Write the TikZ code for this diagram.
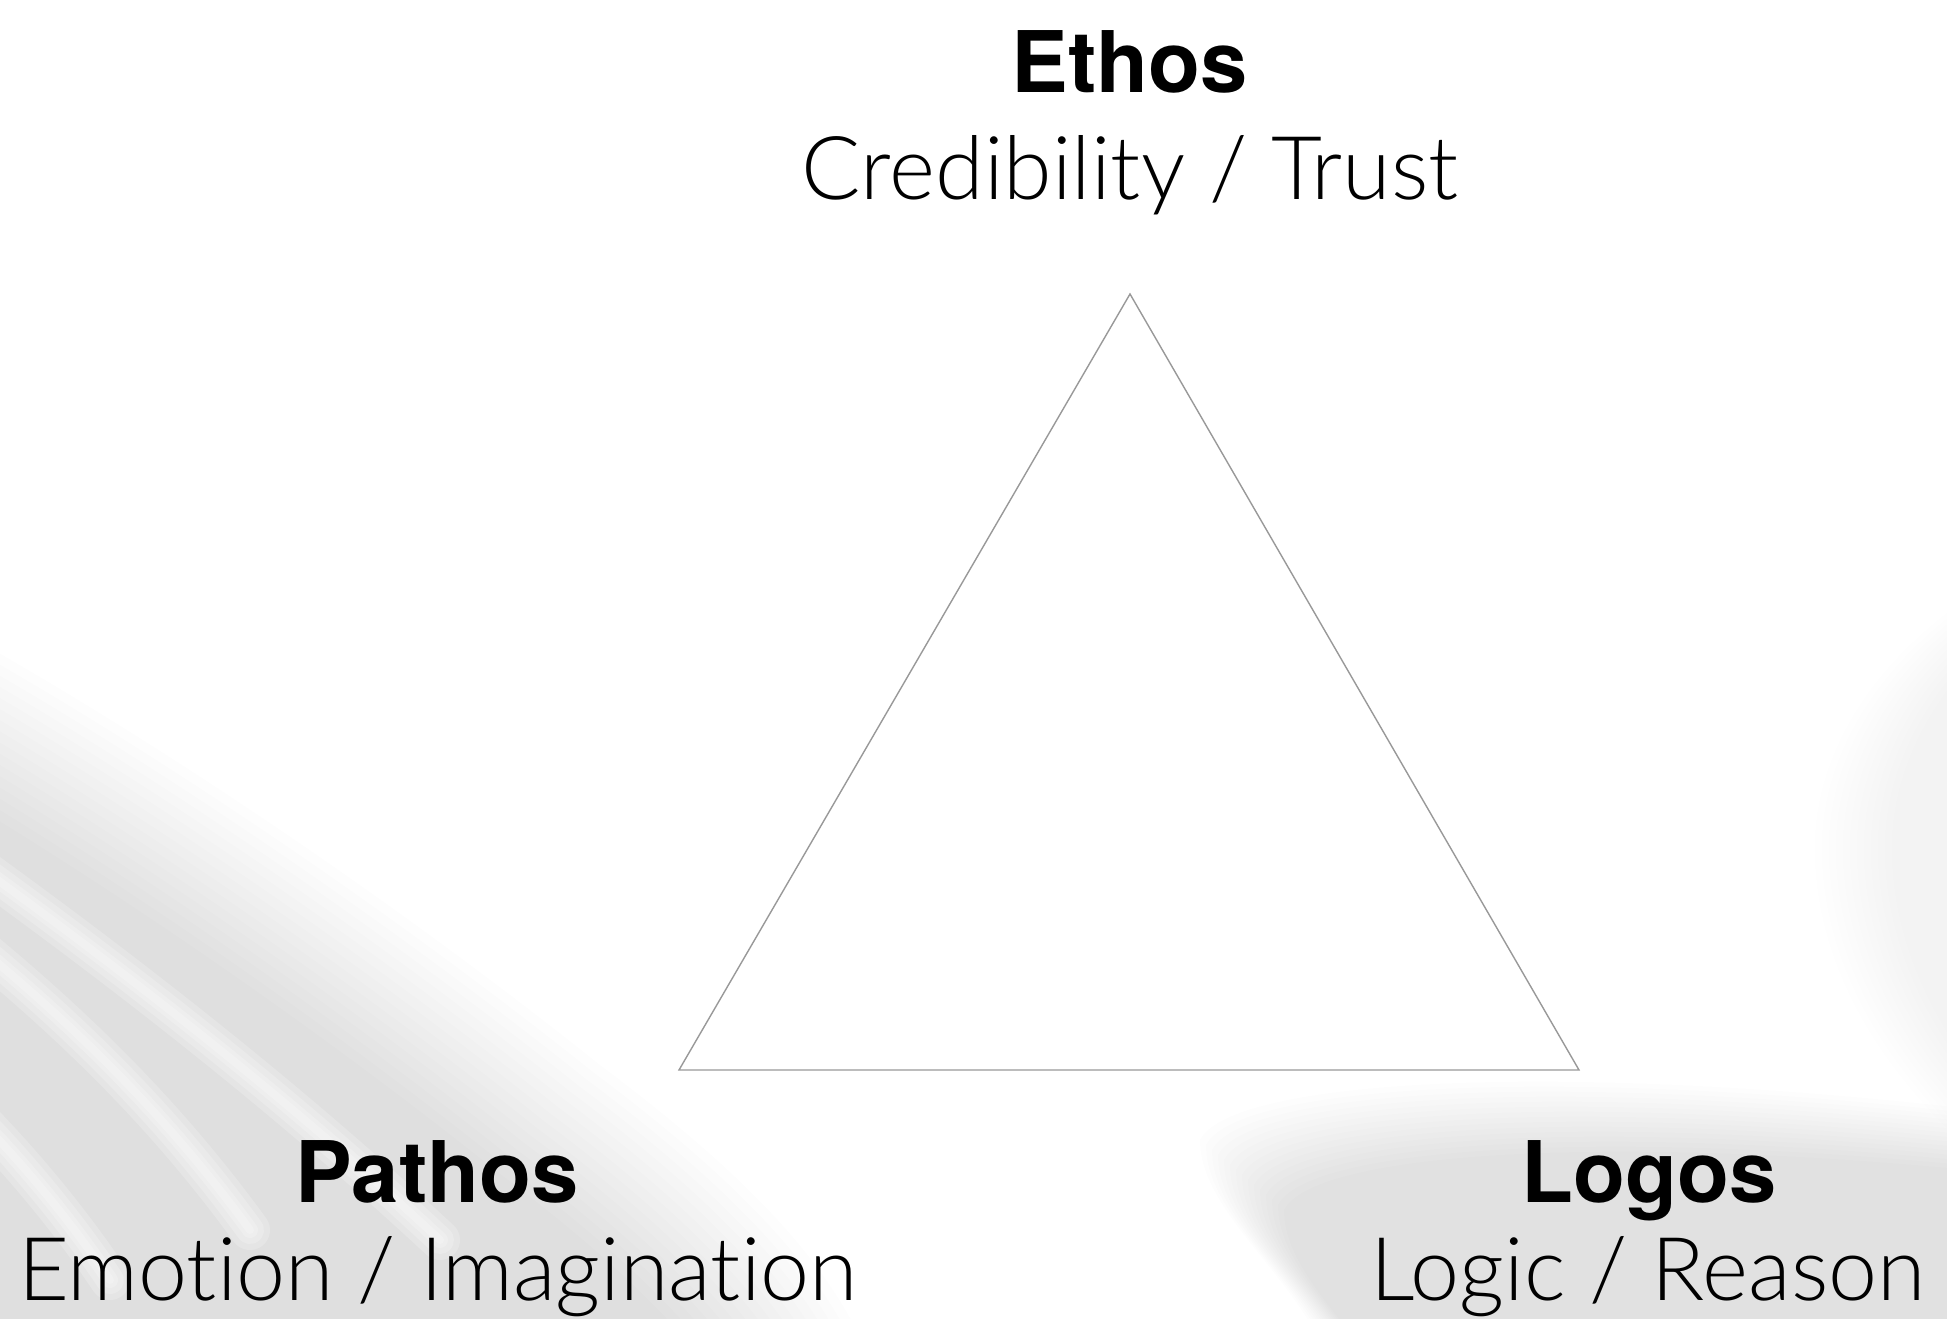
\documentclass[tikz,border=0pt]{standalone}
\usepackage{fontspec}
\setmainfont{TeX Gyre Heros}
\newfontfamily\lightfont{Lato Light}[RawFeature={-liga;-dlig}]
\tikzset{
  titletext/.style={font=\fontsize{85}{100}\selectfont\bfseries, inner sep=0pt, anchor=base, text=black},
  subtext/.style={font=\lightfont\fontsize{88}{100}\selectfont, inner sep=0pt, anchor=base, text=black},
  triline/.style={draw=black!40, line width=1.4pt, line join=miter},
  streak/.style={white, line cap=round, opacity=0.2},
}
\begin{document}
\begin{tikzpicture}[x=1pt,y=-1pt]
\useasboundingbox (0,0) rectangle (1947,1319);
\fill[white] (0,0) rectangle (1947,1319);
\begin{scope}
\clip (0,0) rectangle (1947,1319);
% lower-left soft grey sweep
\foreach \i in {0,...,15} {
  \fill[black, opacity=0.0085, shift={({-7*\i},{7*\i})}]
    (-60,620) .. controls (150,735) and (400,905) .. (600,1065)
    .. controls (740,1170) and (830,1260) .. (870,1360) -- (-60,1360) -- cycle;
}
% white streaks in the sweep
\foreach \w in {40,28,16,8} {
  \draw[streak, line width=\w pt] (-30,860) .. controls (150,990) and (300,1110) .. (440,1240);
  \draw[streak, line width=\w pt] (-30,940) .. controls (80,1030) and (170,1120) .. (250,1230);
  \draw[streak, line width=\w pt] (-30,1110) .. controls (20,1160) and (70,1220) .. (110,1280);
}
% lower-right soft grey
\foreach \i in {0,...,14} {
  \fill[black, opacity=0.008, shift={({6*\i},{5*\i})}]
    (1200,1140) .. controls (1230,1080) and (1550,1060) .. (1980,1110)
    -- (1980,1360) -- (1330,1360) .. controls (1290,1270) and (1200,1210) .. cycle;
}
% right edge soft grey
\foreach \i in {0,...,11} {
  \fill[black, opacity=0.0055, shift={({7*\i},0)}]
    (1980,590) .. controls (1870,660) and (1810,760) .. (1815,860)
    .. controls (1820,980) and (1890,1080) .. (1980,1160) -- cycle;
}
\end{scope}
% triangle
\coordinate (T) at (1130,294);
\coordinate (L) at (679,1070);
\coordinate (R) at (1579,1070);
\draw[triline] (T) -- (L) -- (R) -- cycle;
% labels
\node[titletext] (ethos) at (1130,93) {Ethos};
\node[subtext] (ethossub) at (1130,199) {Credibility / Trust};
\node[titletext] (pathos) at (437,1202) {Pathos};
\node[subtext] (pathossub) at (438,1300) {Emotion / Imagination};
\node[titletext] (logos) at (1649,1202) {Logos};
\node[subtext] (logossub) at (1648,1300) {Logic / Reason};
\end{tikzpicture}
\end{document}
